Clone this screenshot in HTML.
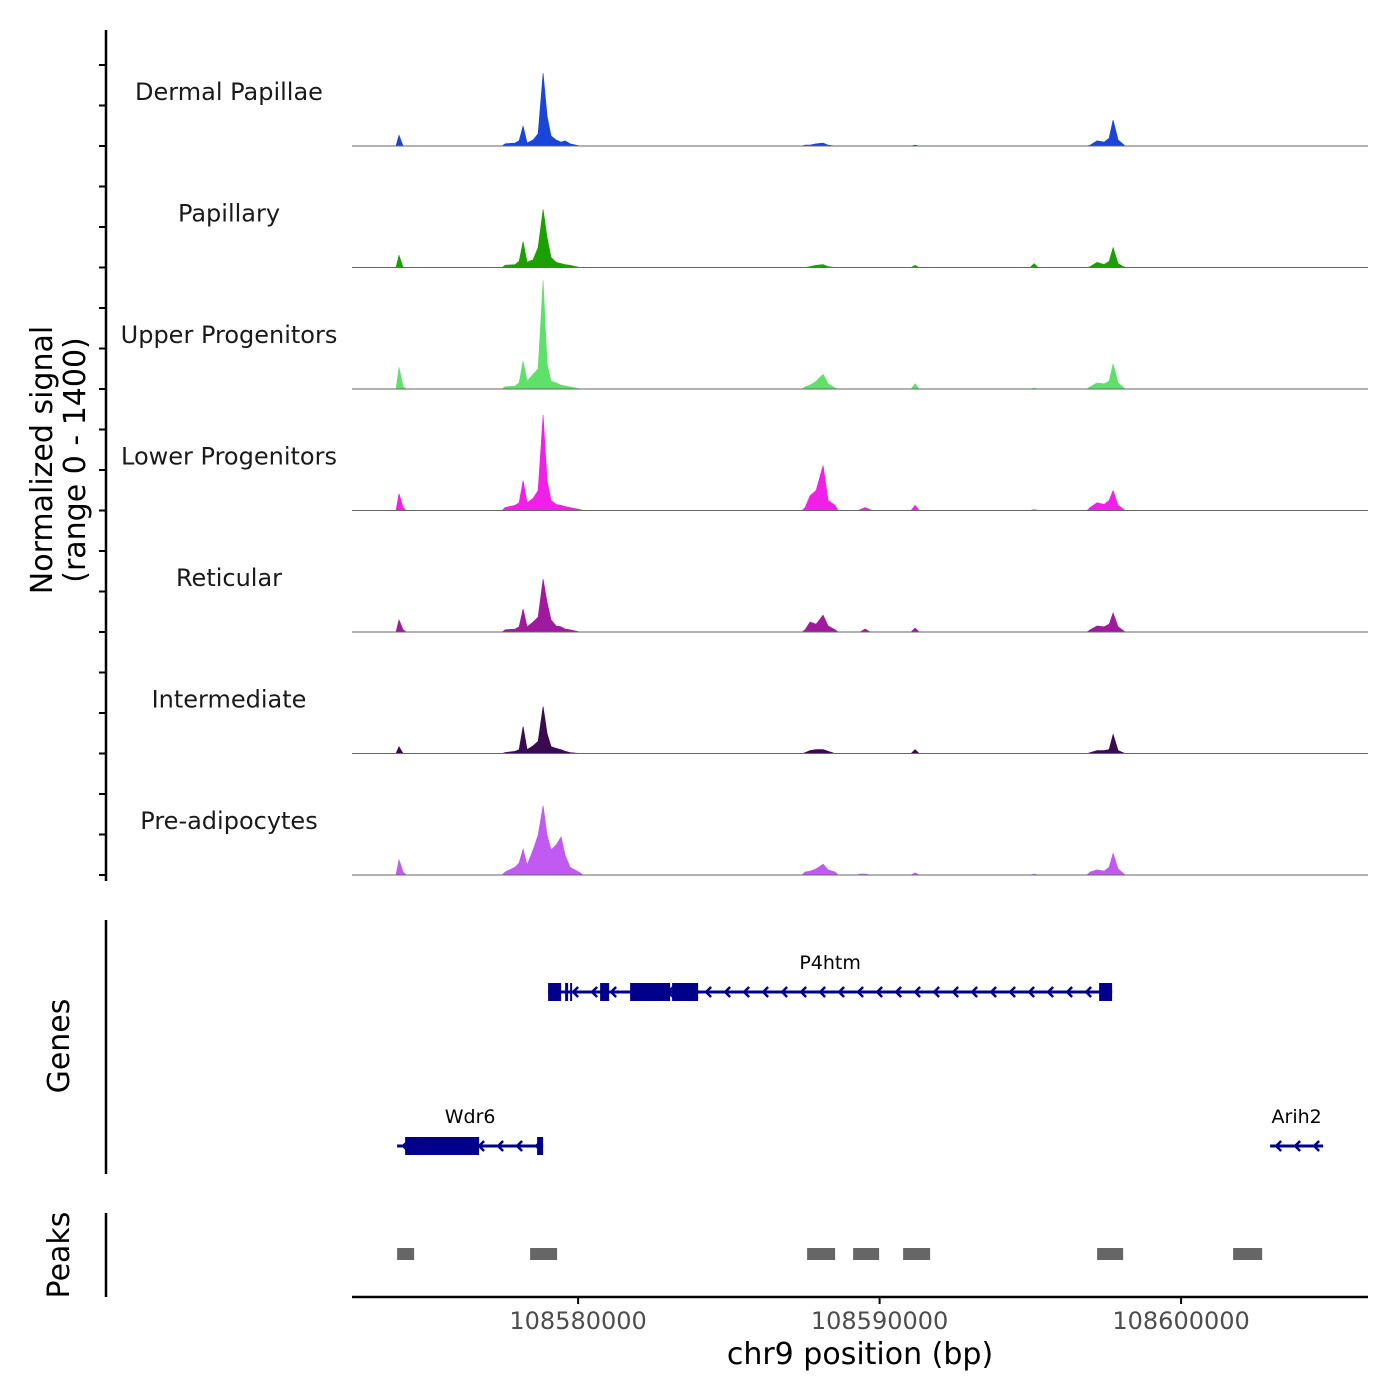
<!DOCTYPE html>
<html><head><meta charset="utf-8"><style>
body{margin:0;background:#fff}
svg{display:block;font-family:"DejaVu Sans","Liberation Sans",sans-serif}
</style></head><body>
<svg id="chart" width="1400" height="1400" viewBox="0 0 1400 1400">
<rect width="1400" height="1400" fill="#fff"/>
<g id="tracks"></g>
<g id="genes"></g>
<g id="peaks"></g>
<g id="axes"></g>
<text transform="translate(52,460) rotate(-90)" text-anchor="middle" font-size="30" fill="#000">Normalized signal</text>
<text transform="translate(85,460) rotate(-90)" text-anchor="middle" font-size="30" fill="#000">(range 0 - 1400)</text>
<text transform="translate(69,1046) rotate(-90)" text-anchor="middle" font-size="30" fill="#000">Genes</text>
<text transform="translate(69,1255) rotate(-90)" text-anchor="middle" font-size="30" fill="#000">Peaks</text>
<text x="860" y="1364" text-anchor="middle" font-size="30" fill="#000">chr9 position (bp)</text>
</svg>
<script>
const NS="http://www.w3.org/2000/svg";
const xDomain=[108572500,108606200];
const xTicks=[108580000,108590000,108600000];
const trackNames=["Dermal Papillae","Papillary","Upper Progenitors","Lower Progenitors","Reticular","Intermediate","Pre-adipocytes"];
const trackColors=["#1a45d8","#1aa000","#5fe06a","#f020e8","#a01aa0","#3a0a50","#c05af0"];
const positions=[108574060,108574195,108577579,108577910,108578043,108578176,108578308,108578507,108578673,108578839,108578972,108579104,108579270,108579436,108579569,108579735,108580066,108587530,108587695,108587894,108588127,108588293,108588525,108589354,108589520,108589686,108591046,108591178,108591311,108594993,108595126,108595258,108596983,108597215,108597447,108597613,108597746,108597912,108598144];
const dermalValues=[125,0,25,35,60,230,35,70,140,840,345,115,70,45,60,25,0,10,10,25,35,10,0,0,0,0,0,10,0,0,0,0,10,60,45,90,300,70,0];
const papillaryValues=[140,0,25,35,70,300,60,90,230,670,345,115,60,45,35,25,0,0,10,25,35,10,0,0,0,0,0,25,0,0,45,0,10,60,35,70,230,45,0];
const upperValues=[250,25,25,35,70,320,90,170,230,1250,290,90,70,45,35,25,0,25,45,90,170,60,10,0,0,0,0,60,0,0,10,0,25,70,60,90,290,70,0];
const lowerValues=[195,35,35,60,90,345,90,140,230,1100,345,115,70,60,45,35,10,35,170,230,520,115,60,10,35,10,0,60,0,0,10,0,35,90,70,115,230,60,0];
const reticularValues=[140,25,25,35,60,265,60,115,170,610,345,140,70,60,35,25,0,25,115,90,195,70,25,0,35,0,0,45,0,0,0,0,25,70,60,90,220,60,0];
const intermediateValues=[80,0,10,25,45,310,45,90,140,540,230,80,60,45,25,10,0,10,35,45,45,25,0,0,0,0,0,45,0,0,0,0,10,35,35,45,220,35,0];
const preadipValues=[175,35,35,90,140,300,115,290,460,800,460,290,345,440,230,90,25,35,45,70,125,60,35,10,10,0,0,25,0,0,10,0,35,60,45,90,250,70,0];
const seriesValues=[dermalValues,papillaryValues,upperValues,lowerValues,reticularValues,intermediateValues,preadipValues];
const yMax=1400;
const peakStarts=[108573996,108578408,108587596,108589122,108590780,108597215,108601726];
const peakEnds=[108574560,108579303,108588525,108589984,108591676,108598078,108602688];
const geneNames=["P4htm","Wdr6","Arih2"];
const geneStarts=[108579005,108573996,108602954];
const geneEnds=[108597712,108578839,108604712];
const geneExons=[[[108579005,108579436],[108579569,108579668],[108579735,108579801],[108580730,108581028],[108581725,108583052],[108583118,108583980],[108597281,108597712]],[[108574262,108576716],[108578640,108578839]],[]];
const geneRows=[0,1,1];

const X0=352,X1=1368;
function xs(v){return X0+(v-xDomain[0])/(xDomain[1]-xDomain[0])*(X1-X0);}
const trackH=121.5,firstBase=146;
function ys(v,i){return firstBase+i*trackH - v/yMax*trackH;}
function el(tag,attrs,parent){const e=document.createElementNS(NS,tag);for(const k in attrs)e.setAttribute(k,attrs[k]);parent.appendChild(e);return e;}

const tracks=document.getElementById('tracks');
const gapBp=200;
seriesValues.forEach((vals,i)=>{
  const base=firstBase+i*trackH;
  let d=`M${X0},${base}`;
  positions.forEach((p,j)=>{
    const prevGap=j===0||p-positions[j-1]>gapBp*2;
    if(prevGap) d+=` L${xs(p-gapBp/2).toFixed(1)},${base}`;
    d+=` L${xs(p).toFixed(1)},${ys(vals[j],i).toFixed(1)}`;
    const nextGap=j===positions.length-1||positions[j+1]-p>gapBp*2;
    if(nextGap) d+=` L${xs(p+gapBp/2).toFixed(1)},${base}`;
  });
  d+=` L${X1},${base} Z`;
  const a=el('path',{d:d,fill:trackColors[i],stroke:trackColors[i],'stroke-width':0.6},tracks);
  
  
  const l=el('line',{x1:X0,x2:X1,y1:base,y2:base,stroke:'#666','stroke-width':1},tracks);
  
  
  const t=el('text',{x:229,y:base-46,'text-anchor':'middle','font-size':24,fill:'#1a1a1a'},tracks);
  t.textContent=trackNames[i];
  
  
});

const genes=document.getElementById('genes');
const gc="#00008b";
geneNames.forEach((n,g)=>{
  const y=geneRows[g]===0?992:1146;
  const x1=xs(geneStarts[g]),x2=xs(geneEnds[g]);
  const ln=el('line',{x1:x1,x2:x2,y1:y,y2:y,stroke:gc,'stroke-width':3},genes);
  
  
  for(let ax=x1+6;ax<x2-4;ax+=19){
    const ch=el('path',{d:`M${ax+5},${y-5} L${ax},${y} L${ax+5},${y+5}`,fill:'none',stroke:gc,'stroke-width':2.5},genes);
    
    
  }
  geneExons[g].forEach(e=>{
    const r=el('rect',{x:xs(e[0]),y:y-9,width:Math.max(2,xs(e[1])-xs(e[0])),height:18,fill:gc},genes);
    
    
  });
  const t=el('text',{x:(x1+x2)/2,y:y-23,'text-anchor':'middle','font-size':19,fill:'#000'},genes);
  t.textContent=n;
  
  
});

const peaks=document.getElementById('peaks');
peakStarts.forEach((s,i)=>{
  const r=el('rect',{x:xs(s),y:1248,width:xs(peakEnds[i])-xs(s),height:12,fill:'#666'},peaks);
  
  
});

const axes=document.getElementById('axes');
function line(x1,y1,x2,y2,w,name){const l=el('line',{x1:x1,y1:y1,x2:x2,y2:y2,stroke:'#000','stroke-width':w},axes);}
line(106,30,106,881,2.5,'signal-y-axis');
for(let i=0;i<7;i++){for(let k=0;k<3;k++){const y=firstBase+i*trackH-k*40.5;line(99,y,106,y,2,'y-tick');}}
line(106,920,106,1174,2.5,'genes-y-axis');
line(106,1213,106,1297,2.5,'peaks-y-axis');
line(352,1297,1368,1297,2.5,'x-axis-line');
xTicks.forEach(v=>{
  line(xs(v),1297,xs(v),1304,2,'x-tick');
  const t=el('text',{x:xs(v),y:1329,'text-anchor':'middle','font-size':24,fill:'#4d4d4d'},axes);
  t.textContent=String(v);
  
  
});
</script>
</body></html>
